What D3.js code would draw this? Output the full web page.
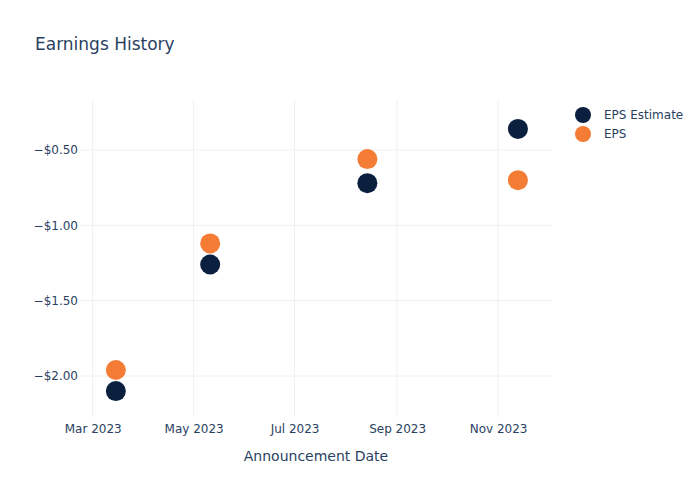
<!DOCTYPE html>
<html>
<head>
<meta charset="utf-8">
<script src="https://cdn.jsdelivr.net/npm/d3@7"></script>
<style>
  body { margin: 0; background: #fff; }
  text { font-family: "DejaVu Sans", verdana, sans-serif; fill: #2a3f5f; }
</style>
</head>
<body>
<div id="chart"></div>
<script>
// announcement dates and values
var dates = ["2023-03-15", "2023-05-11", "2023-08-14", "2023-11-13"];
var epsEstimate = [-2.10, -1.26, -0.72, -0.36];
var eps = [-1.96, -1.12, -0.56, -0.70];
var yTicks = [-2.0, -1.5, -1.0, -0.5];
var xTicks = ["2023-03-01", "2023-05-01", "2023-07-01", "2023-09-01", "2023-11-01"];
var seriesNames = ["EPS Estimate", "EPS"];
var seriesColors = ["#0b1f3f", "#f47c35"];

var width = 700, height = 500;
var margin = {top: 100, right: 148, bottom: 83, left: 80};
var plotW = width - margin.left - margin.right,
    plotH = height - margin.top - margin.bottom;

var parse = d3.timeParse("%Y-%m-%d");

var x = d3.scaleTime()
  .range([0, plotW])
  .domain([new Date(2023, 1, 21, 8), new Date(2023, 11, 3, 14)]);

var y = d3.scaleLinear()
  .range([plotH, 0])
  .domain([-2.272, -0.168]);

var svg = d3.select("#chart").append("svg")
  .attr("width", width)
  .attr("height", height);

svg.append("text")
  .attr("x", 35)
  .attr("y", 50)
  .style("font-size", "17px")
  .text("Earnings History");

var g = svg.append("g")
  .attr("transform", "translate(" + margin.left + "," + margin.top + ")");

// grid
g.selectAll(".vgrid")
  .data(xTicks.map(parse))
  .enter().append("line")
  .attr("x1", function (d) { return x(d); })
  .attr("x2", function (d) { return x(d); })
  .attr("y1", 0).attr("y2", plotH)
  .style("stroke", "#eef0f4").style("stroke-width", 1);

g.selectAll(".hgrid")
  .data(yTicks)
  .enter().append("line")
  .attr("x1", 0).attr("x2", plotW)
  .attr("y1", function (d) { return y(d); })
  .attr("y2", function (d) { return y(d); })
  .style("stroke", "#eef0f4").style("stroke-width", 1);

// axes
var xAxis = d3.axisBottom(x)
  .tickValues(xTicks.map(parse))
  .tickFormat(d3.timeFormat("%b %Y"))
  .tickSize(0).tickPadding(7);

var yAxis = d3.axisLeft(y)
  .tickValues(yTicks)
  .tickFormat(function (d) { return "\u2212$" + Math.abs(d).toFixed(2); })
  .tickSize(0).tickPadding(2);

var gx = g.append("g")
  .attr("transform", "translate(0," + plotH + ")")
  .call(xAxis);
var gy = g.append("g").call(yAxis);

[gx, gy].forEach(function (a) {
  a.select(".domain").remove();
  a.selectAll("text").style("font-size", "12px").style("fill", "#2a3f5f")
    .style("font-family", "\"DejaVu Sans\", verdana, sans-serif");
});

svg.append("text")
  .attr("x", margin.left + plotW / 2)
  .attr("y", 461)
  .attr("text-anchor", "middle")
  .style("font-size", "14px")
  .text("Announcement Date");

// dots
[epsEstimate, eps].forEach(function (vals, i) {
  g.selectAll(".dot" + i)
    .data(vals)
    .enter().append("circle")
    .attr("class", "dot" + i)
    .attr("r", 10)
    .attr("cx", function (d, j) { return x(parse(dates[j])); })
    .attr("cy", function (d) { return y(d); })
    .style("fill", seriesColors[i]);
});

// legend
var legend = svg.append("g").attr("transform", "translate(583,115)");
seriesNames.forEach(function (name, i) {
  legend.append("circle")
    .attr("cx", 0).attr("cy", i * 19)
    .attr("r", 8)
    .style("fill", seriesColors[i]);
  legend.append("text")
    .attr("x", 21).attr("y", i * 19 + 4)
    .style("font-size", "12px")
    .text(name);
});
</script>
</body>
</html>
